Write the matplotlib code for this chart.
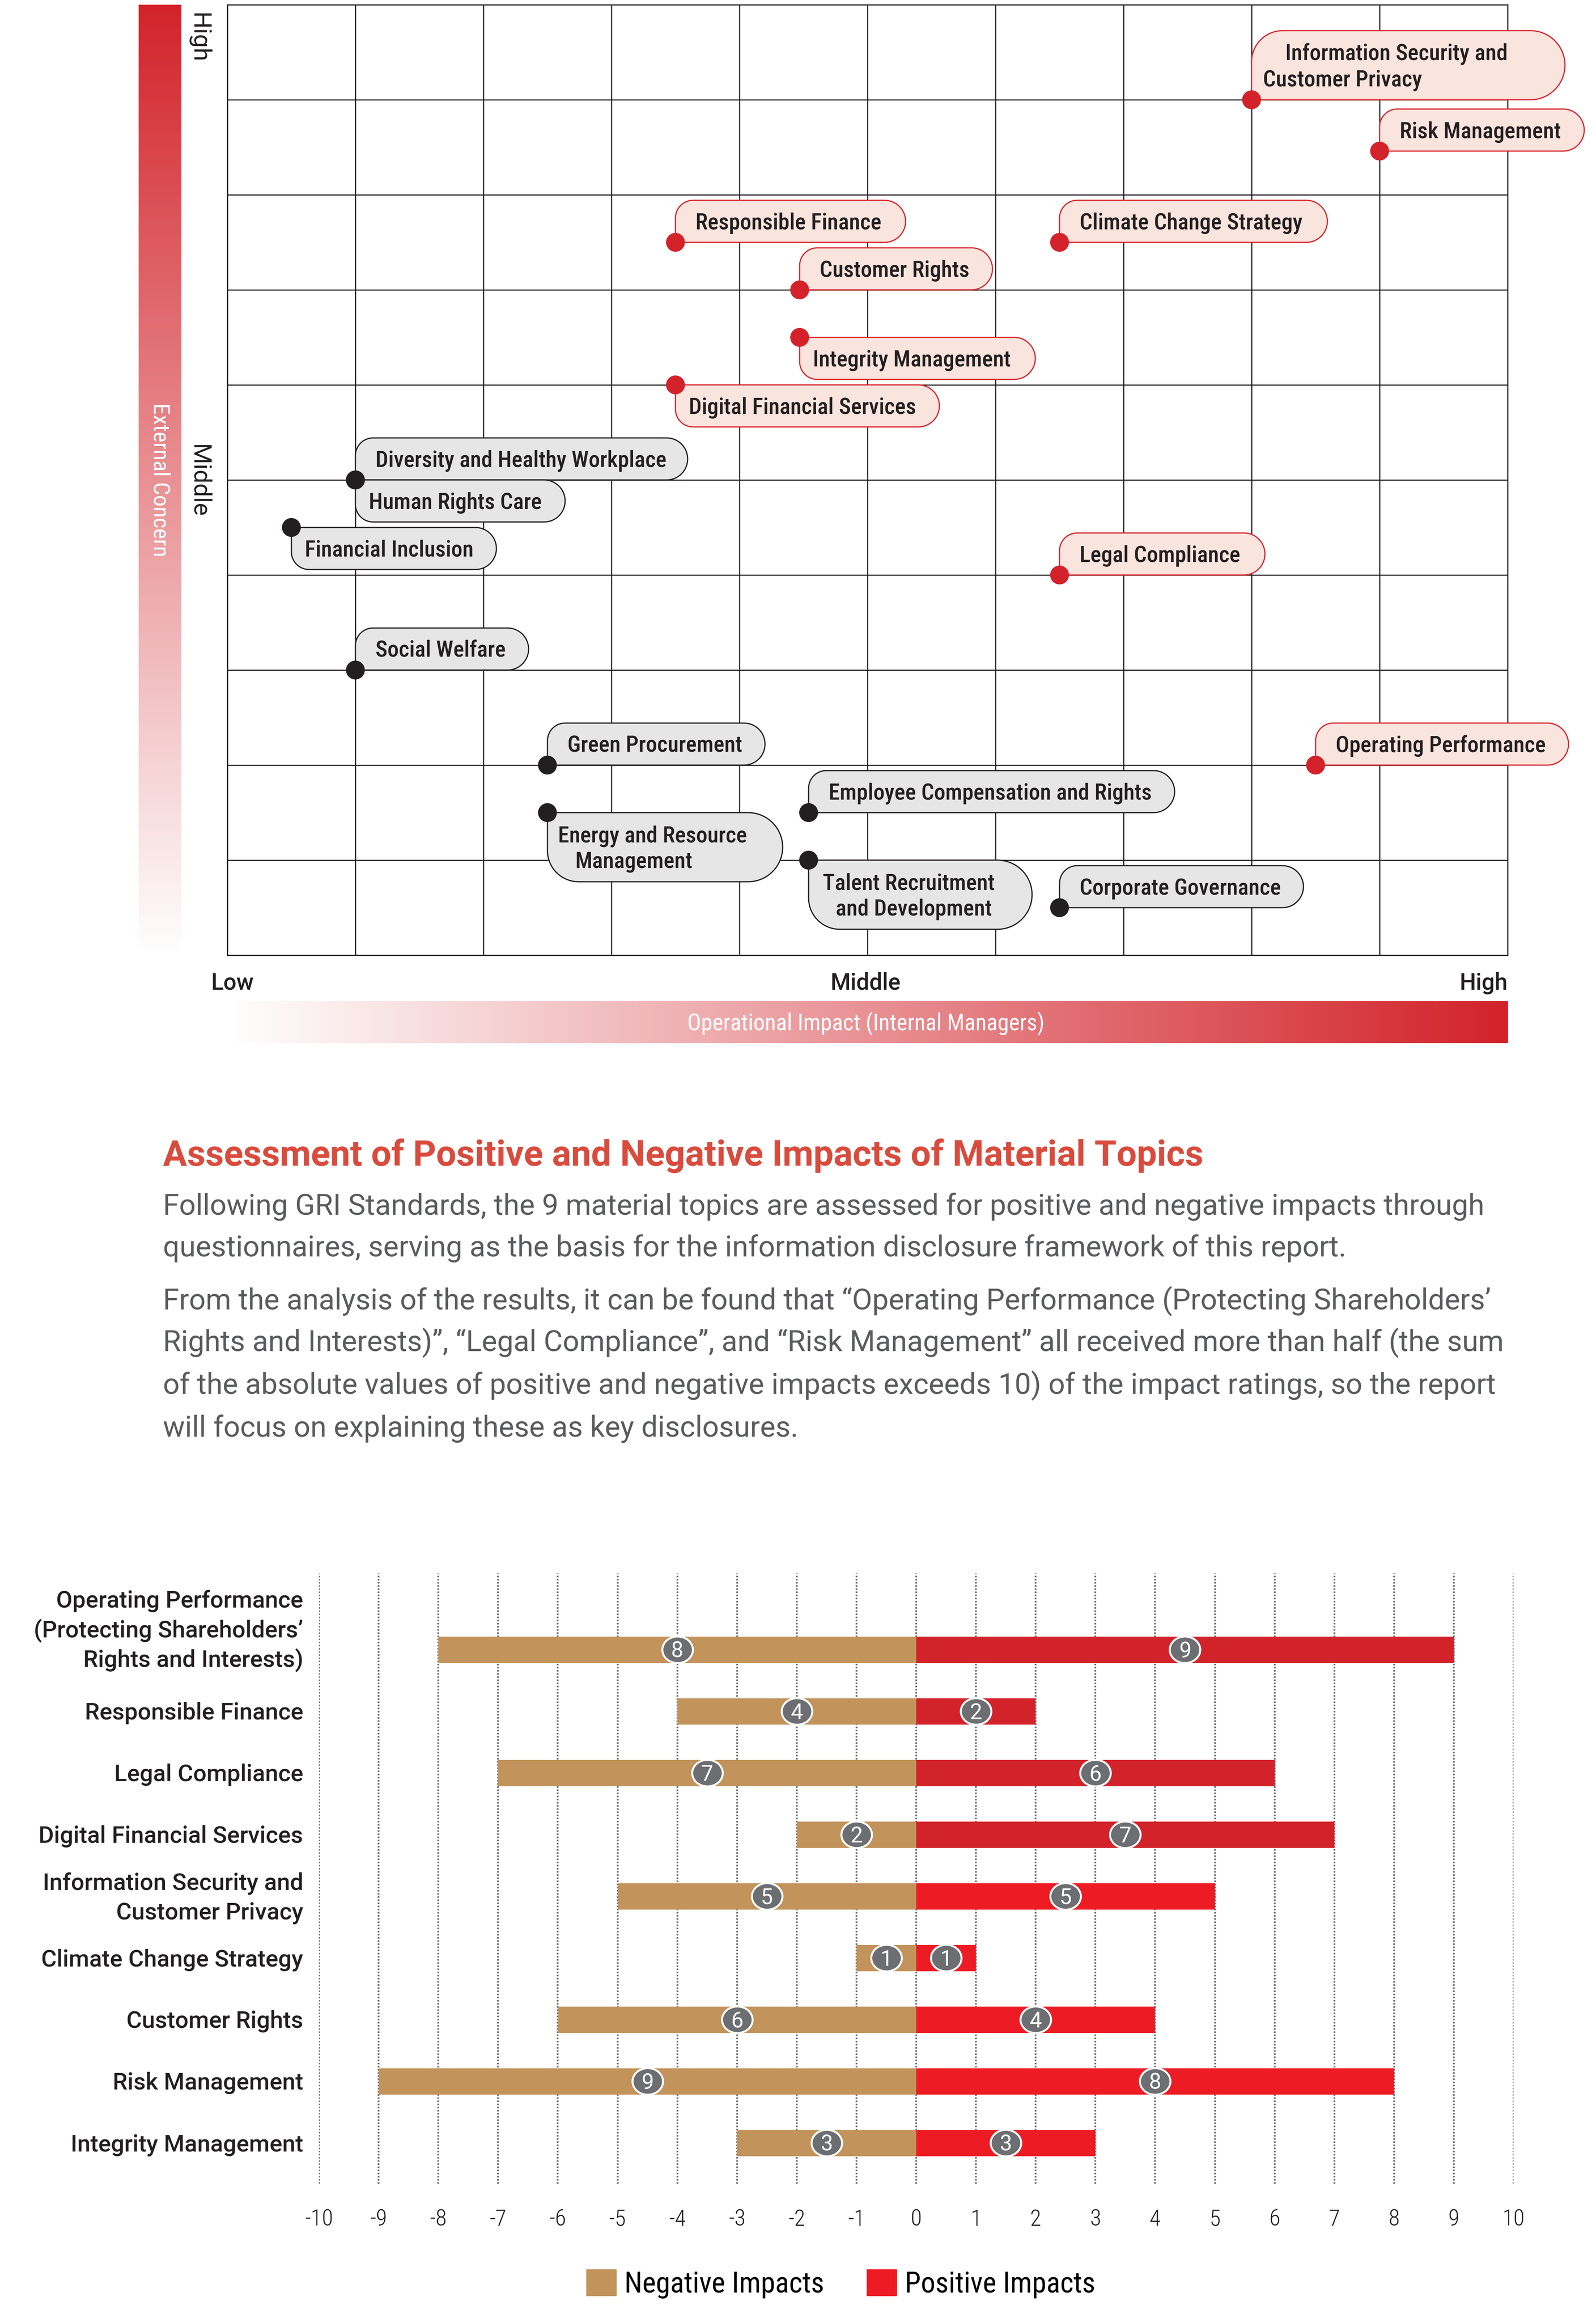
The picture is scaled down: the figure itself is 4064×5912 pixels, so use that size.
import numpy as np
import matplotlib
matplotlib.use("Agg")
import matplotlib.pyplot as plt
from matplotlib import font_manager as fm
from matplotlib.path import Path
from matplotlib.patches import PathPatch, Patch
from matplotlib.transforms import IdentityTransform, Affine2D
from matplotlib.colors import LinearSegmentedColormap

# ---------------------------------------------------------------- data
# Materiality matrix: x = operational impact (0-10), y = external concern (0-10)
topics = [
    "Information Security and\nCustomer Privacy", "Risk Management",
    "Climate Change Strategy", "Responsible Finance", "Customer Rights",
    "Integrity Management", "Digital Financial Services",
    "Diversity and Healthy Workplace", "Human Rights Care", "Financial Inclusion",
    "Legal Compliance", "Social Welfare", "Green Procurement",
    "Operating Performance", "Employee Compensation and Rights",
    "Energy and Resource\nManagement", "Talent Recruitment\nand Development",
    "Corporate Governance",
]
impact = [8.0, 9.0, 6.5, 3.5, 4.47, 4.47, 3.5, 1.0, 1.0, 0.5, 6.5, 1.0, 2.5,
          8.5, 4.54, 2.5, 4.54, 6.5]
concern = [9.0, 8.46, 7.5, 7.5, 7.0, 6.5, 6.0, 5.0, 5.0, 4.5, 4.0, 3.0, 2.0,
           2.0, 1.5, 1.5, 1.0, 0.5]
is_material = [True, True, True, True, True, True, True, False, False, False,
               True, False, False, True, False, False, False, False]

# Impact assessment of the 9 material topics
categories = [
    "Operating Performance\n(Protecting Shareholders’\nRights and Interests)",
    "Responsible Finance", "Legal Compliance", "Digital Financial Services",
    "Information Security and\nCustomer Privacy", "Climate Change Strategy",
    "Customer Rights", "Risk Management", "Integrity Management",
]
negative_impacts = [-8, -4, -7, -2, -5, -1, -6, -9, -3]
positive_impacts = [9, 2, 6, 7, 5, 1, 4, 8, 3]
x_ticks = list(range(-10, 11))
x_tick_labels = [str(v) for v in x_ticks]
legend_labels = ["Negative Impacts", "Positive Impacts"]

title = "Assessment of Positive and Negative Impacts of Material Topics"
paragraph_lines = [
    "Following GRI Standards, the 9 material topics are assessed for positive and negative impacts through",
    "questionnaires, serving as the basis for the information disclosure framework of this report.",
    "From the analysis of the results, it can be found that “Operating Performance (Protecting Shareholders’",
    "Rights and Interests)”, “Legal Compliance”, and “Risk Management” all received more than half (the sum",
    "of the absolute values of positive and negative impacts exceeds 10) of the impact ratings, so the report",
    "will focus on explaining these as key disclosures.",
]

# ---------------------------------------------------------------- style
W, H = 4064, 5912
DPI = 100
INK = "#231F20"
RED = "#D2232A"
RED_BRIGHT = "#ED1C24"
TAN = "#C2935B"
GREY_DOT = "#6D6E71"
TITLE_RED = "#D94B3D"
PARA = "#5A5B5D"
pos_colors = [RED, RED, RED, RED, RED_BRIGHT, RED_BRIGHT, RED_BRIGHT,
              RED_BRIGHT, RED_BRIGHT]

box_style = {
    "Information Security and\nCustomer Privacy": dict(w=798, side="up", pads=[86, 29]),
    "Risk Management": dict(w=521, side="up"),
    "Climate Change Strategy": dict(w=682, side="up"),
    "Responsible Finance": dict(w=586, side="up"),
    "Customer Rights": dict(w=491, side="up"),
    "Integrity Management": dict(w=600, side="down"),
    "Digital Financial Services": dict(w=672, side="down"),
    "Diversity and Healthy Workplace": dict(w=846, side="up"),
    "Human Rights Care": dict(w=534, side="down"),
    "Financial Inclusion": dict(w=522, side="down"),
    "Legal Compliance": dict(w=523, side="up"),
    "Social Welfare": dict(w=441, side="up"),
    "Green Procurement": dict(w=554, side="up"),
    "Operating Performance": dict(w=644, side="up"),
    "Employee Compensation and Rights": dict(w=932, side="up"),
    "Energy and Resource\nManagement": dict(w=599, side="down", pads=[27, 70]),
    "Talent Recruitment\nand Development": dict(w=569, side="down", pads=[36, 69]),
    "Corporate Governance": dict(w=621, side="up"),
}

names = {f.name for f in fm.fontManager.ttflist}
COND = None
for cand in ["Roboto Condensed", "Liberation Sans Narrow", "Arial Narrow",
             "Open Sans Condensed", "DejaVu Sans Condensed", "Noto Sans Condensed"]:
    if cand in names:
        COND = cand
        break
if COND is None:
    COND = "Roboto" if "Roboto" in names else "DejaVu Sans"
SANS = "Roboto" if "Roboto" in names else "DejaVu Sans"

plt.rcParams["axes.unicode_minus"] = False
fig = plt.figure(figsize=(W / DPI, H / DPI), dpi=DPI, facecolor="white")
renderer = fig.canvas.get_renderer()
ID = IdentityTransform()


def fig_rect(x0, y0, x1, y1):
    return [x0 / W, 1 - y1 / H, (x1 - x0) / W, (y1 - y0) / H]


def text_width(s, size, **kw):
    t = fig.text(0, 0, s, fontsize=size, **kw)
    w = t.get_window_extent(renderer).width
    t.remove()
    return w


def fit(s, target, **kw):
    return 100.0 * target / text_width(s, 100, **kw)


def pt2px(p):
    return p * DPI / 72.0


def rbox(x0, yb, x1, yt, rl, rr, square):
    pts = []

    def arc(cx, cy, r, a0, a1, n=24):
        for t in np.linspace(a0, a1, n):
            pts.append((cx + r * np.cos(t), cy + r * np.sin(t)))
    if square == "bl":
        pts.append((x0, yb))
    else:
        arc(x0 + rl, yb + rl, rl, np.pi, 1.5 * np.pi)
    arc(x1 - rr, yb + rr, rr, 1.5 * np.pi, 2 * np.pi)
    arc(x1 - rr, yt - rr, rr, 0, 0.5 * np.pi)
    if square == "tl":
        pts.append((x0, yt))
    else:
        arc(x0 + rl, yt - rl, rl, 0.5 * np.pi, np.pi)
    pts.append(pts[0])
    return Path(pts, closed=True)


# ---------------------------------------------------------------- matrix
ax1 = fig.add_axes(fig_rect(579, 12, 3839, 2432))
ax1.set_xlim(0, 10)
ax1.set_ylim(0, 10)
ax1.set_xticks(np.arange(0, 11))
ax1.set_yticks(np.arange(0, 11))
ax1.grid(True, color=INK, lw=2.0)
ax1.set_axisbelow(True)
ax1.tick_params(length=0, labelbottom=False, labelleft=False)
for sp in ax1.spines.values():
    sp.set_color(INK)
    sp.set_linewidth(2.0)

grad_cmap = LinearSegmentedColormap.from_list("g", ["#FFFFFF", RED])
axv = fig.add_axes(fig_rect(353, 12, 462, 2432))
axv.imshow(np.linspace(0, 1, 512).reshape(-1, 1), cmap=grad_cmap, aspect="auto",
           origin="lower", extent=(0, 1, 0, 1))
axv.set_axis_off()
axh = fig.add_axes(fig_rect(581, 2549, 3840, 2656))
axh.imshow(np.linspace(0, 1, 512).reshape(1, -1), cmap=grad_cmap, aspect="auto",
           origin="lower", extent=(0, 1, 0, 1))
axh.set_axis_off()

lab_kw = dict(family=COND, weight="medium")
s1 = fit("Legal Compliance", 411, **lab_kw)
s2 = fit("Employee Compensation and Rights", 822, **lab_kw)
lab_size = min((s1 + s2) / 2, 44)
lab_em = pt2px(lab_size)

dot_colors = []
for name, xv, yv, mat in zip(topics, impact, concern, is_material):
    st = box_style[name]
    lines = name.split("\n")
    two = len(lines) == 2
    h = 176 if two else 107
    dx, dy = ax1.transData.transform((xv, yv))
    if st["side"] == "up":
        yb, yt, sq, dpad = dy, dy + h, "bl", 51
    else:
        yb, yt, sq, dpad = dy - h, dy, "tl", 34
    fc = "#F9E4DE" if mat else "#E6E6E6"
    ec = "#D8262E" if mat else INK
    dot_colors.append("#D4222B" if mat else INK)
    path = rbox(dx, yb, dx + st["w"], yt, (0.45 if two else 0.42) * h, 0.5 * h, sq)
    ax1.add_patch(PathPatch(path, transform=ID, fc=fc, ec=ec, lw=2.2, zorder=4,
                            clip_on=False))
    yc = (yb + yt) / 2
    if two:
        for ln, pad, off in zip(lines, st["pads"], [33, -33]):
            ax1.text(dx + pad, yc + off - 0.355 * lab_em, ln, transform=ID,
                     fontsize=lab_size, color=INK, ha="left", va="baseline",
                     zorder=7, clip_on=False, **lab_kw)
    else:
        ax1.text(dx + dpad, yc - 0.355 * lab_em, name, transform=ID,
                 fontsize=lab_size, color=INK, ha="left", va="baseline",
                 zorder=7, clip_on=False, **lab_kw)

ax1.scatter(impact, concern, s=(48 * 0.72) ** 2, c=dot_colors, zorder=6,
            clip_on=False, linewidths=0)

# axis words
ax_kw = dict(family=SANS, weight="normal")
sz = fit("Middle", 186, **ax_kw)
fig.text(506 / W, 1 - 33 / H, "High", rotation=270, ha="center", va="top",
         fontsize=sz, color=INK, **ax_kw)
fig.text(506 / W, 1 - 1225 / H, "Middle", rotation=270, ha="center", va="center",
         fontsize=sz, color=INK, **ax_kw)
ec_kw = dict(family=COND, weight="normal")
sz = fit("External Concern", 392, **ec_kw)
fig.text(407 / W, 1 - 1222 / H, "External Concern", rotation=270, ha="center",
         va="center", fontsize=sz, color="white", **ec_kw)

bx_kw = dict(family=SANS, weight="medium")
sz = fit("Middle", 179, **bx_kw)
fig.text(538 / W, 1 - 2520 / H, "Low", ha="left", va="baseline", fontsize=sz,
         color=INK, **bx_kw)
fig.text(2204 / W, 1 - 2520 / H, "Middle", ha="center", va="baseline", fontsize=sz,
         color=INK, **bx_kw)
fig.text(3839 / W, 1 - 2520 / H, "High", ha="right", va="baseline", fontsize=sz,
         color=INK, **bx_kw)
oi_kw = dict(family=COND, weight="normal")
sz = fit("Operational Impact (Internal Managers)", 911, **oi_kw)
fig.text(2205 / W, 1 - (2603 + 0.355 * pt2px(sz)) / H,
         "Operational Impact (Internal Managers)", ha="center", va="baseline",
         fontsize=sz, color="white", **oi_kw)

# ---------------------------------------------------------------- title + text
t_kw = dict(family=SANS, weight="bold")
sz = fit(title, 2651, **t_kw)
fig.text(415 / W, 1 - 2968 / H, title, ha="left", va="baseline", fontsize=sz,
         color=TITLE_RED, **t_kw)
p_kw = dict(family=SANS, weight="normal")
sz = min(fit(paragraph_lines[k], 3415, **p_kw) for k in (0, 2, 3, 4))
for ln, yb in zip(paragraph_lines, [3093, 3199, 3334, 3440, 3549, 3658]):
    fig.text(415 / W, 1 - yb / H, ln, ha="left", va="baseline", fontsize=sz,
             color=PARA, **p_kw)

# ---------------------------------------------------------------- bar chart
ROW0, PITCH = 4200, 157
ax2 = fig.add_axes(fig_rect(812, 4006, 3854, 5560))
rows = np.arange(len(categories))
ax2.set_xlim(-10, 10)
ax2.set_ylim((5560 - ROW0) / PITCH, (4006 - ROW0) / PITCH)
bh = 67 / PITCH
ax2.barh(rows, negative_impacts, height=bh, color=TAN, zorder=2)
ax2.barh(rows, positive_impacts, height=bh, color=pos_colors, zorder=2)
ax2.set_xticks(x_ticks)
ax2.set_xticklabels(x_tick_labels)
ax2.set_yticks([])
ax2.grid(axis="x", color=GREY_DOT, lw=3.2, ls=(0, (0.9, 0.9)))
ax2.set_axisbelow(True)
for sp in ax2.spines.values():
    sp.set_visible(False)
ax2.tick_params(axis="x", length=0, pad=46, labelsize=42, labelcolor=INK)
for lbl in ax2.get_xticklabels():
    lbl.set_family(COND)
    lbl.set_weight("light")

# slightly wide oval value badges
oval = Path.unit_circle().transformed(Affine2D().scale(1.0, 0.87))
neg_mid = np.array(negative_impacts) / 2.0
pos_mid = np.array(positive_impacts) / 2.0
ax2.scatter(np.concatenate([neg_mid, pos_mid]), np.concatenate([rows, rows]),
            s=56 ** 2, marker=oval, c=GREY_DOT, edgecolors="white",
            linewidths=3.6, zorder=5)
num_kw = dict(family=SANS, weight="normal")
num_size = 40
for xs, vals in [(neg_mid, negative_impacts), (pos_mid, positive_impacts)]:
    for xv, yv, v in zip(xs, rows, vals):
        cx, cy = ax2.transData.transform((xv, yv))
        ax2.text(cx, cy - 0.355 * pt2px(num_size), str(abs(v)), transform=ID,
                 ha="center", va="baseline", fontsize=num_size, color="white",
                 zorder=6, **num_kw)

yl_kw = dict(family=SANS, weight="medium")
yl_size = min(fit("Responsible Finance", 556, **yl_kw),
              fit("Digital Financial Services", 694, **yl_kw))
yl_em = pt2px(yl_size)
for i, cat in enumerate(categories):
    lines = cat.split("\n")
    cx, cy = ax2.transData.transform((0, i))
    if i == 0:
        cy += 53
    n = len(lines)
    for k, ln in enumerate(lines):
        lc = cy + (n - 1) / 2 * 75 - k * 75
        ax2.text(772, lc - 0.355 * yl_em, ln, transform=ID, ha="right",
                 va="baseline", fontsize=yl_size, color=INK, clip_on=False, **yl_kw)

leg_kw = dict(family=COND, weight="normal")
leg_size = fit("Negative Impacts", 509, **leg_kw)
leg_em = pt2px(leg_size)
handles = [Patch(color=TAN), Patch(color=RED_BRIGHT)]
fig.legend(handles, legend_labels, loc="center", ncol=2, frameon=False,
           bbox_to_anchor=(2141 / W, 1 - 5815 / H),
           prop=fm.FontProperties(family=COND, weight="normal", size=leg_size),
           handlelength=76 / leg_em, handleheight=75 / leg_em,
           handletextpad=21 / leg_em, columnspacing=108 / leg_em, borderpad=0)

fig.savefig("out.png", dpi=DPI, facecolor="white")
